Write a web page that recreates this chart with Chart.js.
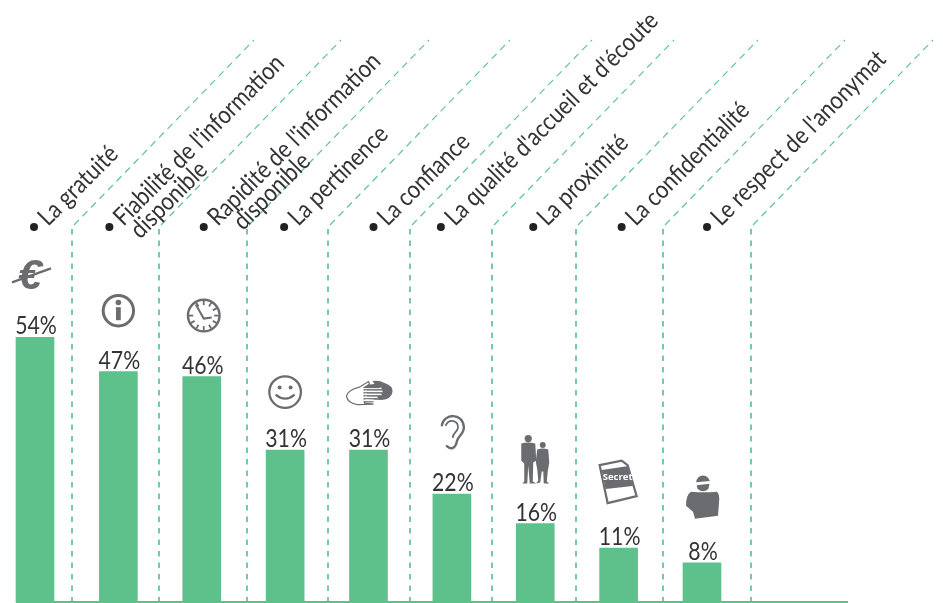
<!DOCTYPE html>
<html lang="fr">
<head>
<meta charset="utf-8">
<style>html,body{margin:0;padding:0;background:#fff}#w{width:943px;height:603px;position:relative}</style>
<script src="https://cdn.jsdelivr.net/npm/chart.js@4/dist/chart.umd.min.js"></script>
</head>
<body>
<div id="w"><canvas id="c" width="943" height="603"></canvas></div>
<script>
const categories = [
  "La gratuité",
  ["Fiabilité de l'information", "disponible"],
  ["Rapidité de l'information", "disponible"],
  "La pertinence",
  "La confiance",
  "La qualité d'accueil et d'écoute",
  "La proximité",
  "La confidentialité",
  "Le respect de l'anonymat"
];
const percentages = [54, 47, 46, 31, 31, 22, 16, 11, 8];
const valueLabels = ["54%", "47%", "46%", "31%", "31%", "22%", "16%", "11%", "8%"];
const iconNames = ["euro", "info", "clock", "smile", "hands", "ear", "people", "secret", "person"];

const GREEN = "#5ec18c", DASH = "#5fc492", INK = "#333235", GREY = "#6b6c70";
const FONT = 'Lato, "Open Sans", sans-serif';

/* page-layout nudges, in pixels, relative to the category scale */
const bulletDx = [-1, -9, 2, -1, 5, -11, -2, 3, 5];
const iconDx = [-5, 0, 2, 0, 1, 0, 0, -1, 1];
const iconDy = [61, 61, 61, 58, 58, 62, 64, 72, 68];
const dividerDx = [-5, -1, 4, 1, 0, -2, -1, 3, 7];
const secondLineShift = [0, 3, 15, 0, 0, 0, 0, 0, 0];

function circle(g, x, y, r, fill) {
  g.beginPath(); g.arc(x, y, r, 0, Math.PI * 2);
  if (fill) g.fill(); else g.stroke();
}
const icons = {
  euro(g) {
    g.font = 'italic bold 43px "Liberation Sans"';
    g.textAlign = "center"; g.textBaseline = "middle";
    g.fillText("€", 0, 1);
    g.lineWidth = 2.4;
    g.beginPath(); g.moveTo(-18, 6); g.lineTo(21, -8); g.stroke();
  },
  info(g) {
    g.lineWidth = 3; circle(g, 0, 0, 15.2);
    circle(g, 0, -8.2, 2.8, true);
    g.fillRect(-2.4, -3.5, 4.8, 13);
  },
  clock(g) {
    g.lineWidth = 2.4; circle(g, 0, 0, 15.8);
    g.lineWidth = 1.8;
    for (let i = 0; i < 12; i++) {
      if (i === 10) continue;
      const a = i * Math.PI / 6, s = Math.sin(a), c = Math.cos(a);
      g.beginPath(); g.moveTo(s * 10.5, -c * 10.5); g.lineTo(s * 15, -c * 15); g.stroke();
    }
    g.lineWidth = 2;
    g.beginPath(); g.moveTo(-8, -11); g.lineTo(0, 3); g.lineTo(8, 2); g.stroke();
  },
  smile(g) {
    g.lineWidth = 2.3; circle(g, 0, 0, 15.8);
    circle(g, -5.5, -4.5, 2, true); circle(g, 5.5, -4.5, 2, true);
    g.lineWidth = 2.2;
    g.beginPath(); g.moveTo(-9.5, 2.5); g.quadraticCurveTo(0, 10.5, 9.5, 2.5); g.stroke();
  },
  hands(g) {
    /* dark hand */
    g.beginPath();
    g.moveTo(-4, -7); g.lineTo(5, -8); g.lineTo(3, -11); g.quadraticCurveTo(10, -12, 15, -9);
    g.quadraticCurveTo(24, -6, 23, 0); g.quadraticCurveTo(22, 7, 12, 8); g.lineTo(-2, 7);
    g.closePath(); g.fill();
    /* light hand */
    g.fillStyle = "#fff"; g.strokeStyle = GREY; g.lineWidth = 1.2;
    g.beginPath();
    g.moveTo(-10, -5); g.lineTo(-1, -10.5); g.lineTo(0, -8); g.lineTo(-5, -4.5);
    g.lineTo(-5, 11); g.lineTo(4, 12); g.lineTo(-12, 12.5);
    g.quadraticCurveTo(-22, 11, -23, 4); g.quadraticCurveTo(-22, -2, -10, -5);
    g.closePath(); g.fill(); g.stroke();
    const fingers = [[-3.5, 12], [-0.5, 13], [2.5, 12], [5.5, 8], [8.5, 4]];
    fingers.forEach(f => {
      g.fillStyle = "#fff";
      g.fillRect(-6, f[0] - 1, f[1] + 6, 2);
      g.beginPath(); g.moveTo(-6, f[0] + 1.2); g.lineTo(f[1], f[0] + 1.2); g.stroke();
    });
    g.beginPath(); g.moveTo(-6, -4.6); g.lineTo(10, -4.6); g.stroke();
  },
  ear(g) {
    g.lineWidth = 2.4; g.lineCap = "round";
    g.beginPath();
    g.moveTo(-10, -7); g.bezierCurveTo(-8, -19, 11, -20, 12, -5);
    g.bezierCurveTo(12, 2, 6, 4, 5, 9); g.bezierCurveTo(4, 16, -1, 18, -5, 14);
    g.stroke();
    g.lineWidth = 1.8;
    g.beginPath();
    g.moveTo(-6, -7); g.bezierCurveTo(-3, -14, 7, -12, 6, -4);
    g.bezierCurveTo(5, 0, 1, 1, 1, 5); g.stroke();
  },
  people(g) {
    circle(g, -7, -21, 3.6, true);
    g.beginPath();
    g.moveTo(-14, -16); g.quadraticCurveTo(-7, -18, 0, -16); g.lineTo(1, 1); g.lineTo(-2, 3);
    g.lineTo(-2.5, 22); g.lineTo(1, 24); g.lineTo(-5.5, 24); g.lineTo(-7, 6); g.lineTo(-8, 24);
    g.lineTo(-13, 24); g.lineTo(-11, 22); g.lineTo(-11, 4); g.lineTo(-14, 1);
    g.closePath(); g.fill();
    circle(g, 7.5, -14.5, 3, true);
    g.beginPath();
    g.moveTo(2, -10); g.quadraticCurveTo(7.5, -12, 13, -10); g.lineTo(14, 3); g.lineTo(12.5, 12);
    g.lineTo(11.5, 22); g.lineTo(14, 24); g.lineTo(8.5, 24); g.lineTo(8, 12); g.lineTo(6.5, 12);
    g.lineTo(5, 23); g.lineTo(1, 24); g.lineTo(3, 21); g.lineTo(2, 10); g.lineTo(0.5, 2);
    g.closePath(); g.fill();
  },
  secret(g) {
    g.strokeStyle = GREY; g.lineWidth = 2.2; g.lineJoin = "miter";
    g.beginPath();
    g.moveTo(-18, -11); g.lineTo(4, -15.5); g.lineTo(10, -11); g.lineTo(19, 20); g.lineTo(-10, 27);
    g.closePath(); g.stroke();
    g.beginPath();
    g.moveTo(-16, -6); g.lineTo(11, -10); g.lineTo(15, 10); g.lineTo(-12, 13);
    g.closePath(); g.fill();
    g.fillStyle = "#fff";
    g.font = 'bold 9.5px "Open Sans"';
    g.textAlign = "center"; g.textBaseline = "middle";
    g.fillText("Secret", 0, 1.5);
  },
  person(g) {
    g.beginPath(); g.arc(0, -12.5, 6.8, Math.PI, 0); g.lineTo(5.5, -6);
    g.quadraticCurveTo(0, -1, -5.5, -6); g.closePath(); g.fill();
    g.fillStyle = "#fff";
    g.save(); g.translate(0, -11.5); g.rotate(-0.1); g.fillRect(-9, -1.6, 16, 2.8); g.restore();
    g.fillStyle = GREY;
    g.beginPath();
    g.moveTo(-12, -3); g.quadraticCurveTo(0, -2, 14, -3); g.quadraticCurveTo(17, 0, 16, 8);
    g.lineTo(15, 21); g.lineTo(-8, 24); g.lineTo(-10, 17); g.lineTo(-17, 11);
    g.quadraticCurveTo(-17, 0, -12, -3); g.closePath(); g.fill();
  }
};

const decorations = {
  id: "decorations",
  beforeDatasetsDraw(chart) {
    const g = chart.ctx, xs = chart.scales.x;
    g.save();
    g.strokeStyle = DASH;
    const step = xs.getPixelForValue(1) - xs.getPixelForValue(0);
    categories.forEach((_, i) => {
      const x = Math.round(xs.getPixelForValue(i) + step / 2 + dividerDx[i]);
      g.lineWidth = 1.7;
      g.setLineDash([5.5, 6]);
      g.beginPath(); g.moveTo(x, 229); g.lineTo(x, 602); g.stroke();
      g.lineWidth = 1.2;
      g.setLineDash([7, 5.2]);
      g.beginPath(); g.moveTo(x + 2, 225); g.lineTo(x + 182, 40); g.stroke();
    });
    g.restore();
  },
  afterDatasetsDraw(chart) {
    const g = chart.ctx, xs = chart.scales.x, ys = chart.scales.y;
    g.save();
    /* baseline */
    g.fillStyle = GREEN;
    g.fillRect(xs.left - 19, ys.bottom - 1, 848 - xs.left + 19, 2);
    categories.forEach((label, i) => {
      const x = xs.getPixelForValue(i), top = ys.getPixelForValue(percentages[i]);
      /* value label */
      g.save();
      g.translate(x + 1, top - 3);
      g.scale(0.85, 1);
      g.fillStyle = INK;
      g.font = "400 25px " + FONT;
      g.textAlign = "center"; g.textBaseline = "alphabetic";
      g.fillText(valueLabels[i], 0, 0);
      g.restore();
      /* icon */
      g.save();
      g.translate(x + iconDx[i], top - iconDy[i]);
      g.fillStyle = GREY; g.strokeStyle = GREY;
      icons[iconNames[i]](g);
      g.restore();
      /* bullet and rotated label */
      const bx = x + bulletDx[i], by = 227;
      g.fillStyle = "#222";
      circle(g, bx, by, 4, true);
      g.save();
      g.translate(bx + 14, by);
      g.rotate(-Math.PI / 4);
      g.fillStyle = INK;
      g.font = "400 25px " + FONT;
      g.textAlign = "left";
      const lines = Array.isArray(label) ? label : [label];
      lines.forEach((t, k) => {
        g.save();
        g.translate(k * secondLineShift[i], k * 21);
        g.scale(0.865, 1);
        g.fillText(t, 0, 0);
        g.restore();
      });
      g.restore();
    });
    g.restore();
  }
};

new Chart(document.getElementById("c"), {
  type: "bar",
  data: {
    labels: categories,
    datasets: [{
      data: percentages,
      backgroundColor: GREEN,
      borderWidth: 0,
      barThickness: 38,
      clip: false
    }]
  },
  options: {
    responsive: false,
    animation: false,
    layout: { padding: { left: 35, right: 241, top: 112, bottom: 1 } },
    plugins: { legend: { display: false }, tooltip: { enabled: false } },
    scales: {
      x: { display: false, offset: false },
      y: { display: false, min: 0, max: 100 }
    }
  },
  plugins: [decorations]
});
</script>
</body>
</html>
